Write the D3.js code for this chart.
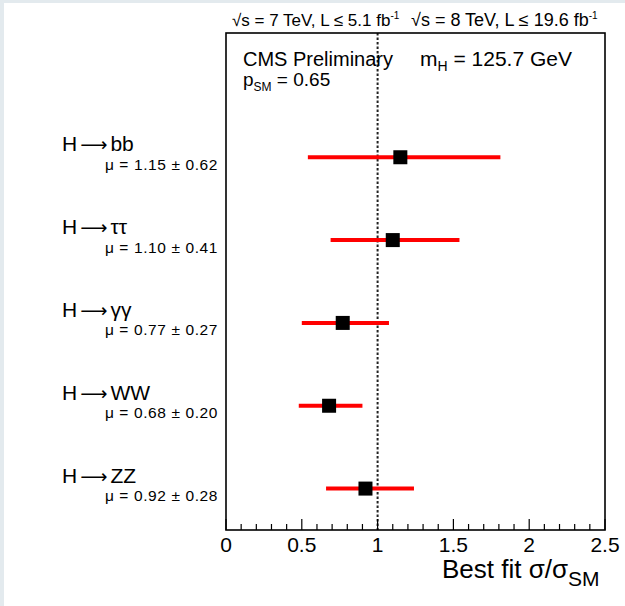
<!DOCTYPE html>
<html><head><meta charset="utf-8">
<script src="https://cdn.jsdelivr.net/npm/d3@7"></script>
<style>body{margin:0;background:#fff}svg{display:block}text{font-family:"Liberation Sans",Arial,sans-serif;fill:#000}</style>
</head><body>
<script>
const channels = ["H \u2192 bb", "H \u2192 \u03c4\u03c4", "H \u2192 \u03b3\u03b3", "H \u2192 WW", "H \u2192 ZZ"];
const mu = [1.15, 1.10, 0.77, 0.68, 0.92];
const muErrLabel = ["0.62", "0.41", "0.27", "0.20", "0.28"];
const lo = [0.54, 0.69, 0.50, 0.48, 0.66];
const hi = [1.81, 1.54, 1.075, 0.90, 1.24];
const xTicks = [0, 0.5, 1, 1.5, 2, 2.5];
const xMinor = d3.range(1, 25).map(i => i / 10);
const smValue = 1;

const W = 625, H = 606;
const L = 226, R = 605, T = 33, B = 530;
const svg = d3.select("body").append("svg").attr("width", W).attr("height", H);

// window chrome borders
svg.append("rect").attr("x", 0).attr("y", 0).attr("width", W).attr("height", 3).attr("fill", "#e3eaee");
svg.append("rect").attr("x", 0).attr("y", 0).attr("width", 4).attr("height", H).attr("fill", "#e3eaee");

const x = d3.scaleLinear().domain([0, 2.5]).range([L, R]);
const y = d3.scaleLinear().domain([0, 6]).range([B, T]);
const n = channels.length;
const yPos = i => y(n - 1 - i + 0.5);

// SM dotted line
svg.append("line").attr("x1", x(smValue)).attr("x2", x(smValue)).attr("y1", T).attr("y2", B)
  .attr("stroke", "#222").attr("stroke-width", 2).attr("stroke-dasharray", "2.5,2");

// error bars
svg.selectAll(".err").data(channels).enter().append("line")
  .attr("x1", (d, i) => x(lo[i])).attr("x2", (d, i) => x(hi[i]))
  .attr("y1", (d, i) => yPos(i)).attr("y2", (d, i) => yPos(i))
  .attr("stroke", "#ff0000").attr("stroke-width", 4);

// markers
const ms = 14;
svg.selectAll(".mk").data(channels).enter().append("rect")
  .attr("x", (d, i) => x(mu[i]) - ms / 2).attr("y", (d, i) => yPos(i) - ms / 2)
  .attr("width", ms).attr("height", ms).attr("fill", "#000");

// frame
svg.append("rect").attr("x", L).attr("y", T).attr("width", R - L).attr("height", B - T)
  .attr("fill", "none").attr("stroke", "#000").attr("stroke-width", 1.6);

// ticks
const tg = svg.append("g");
tg.selectAll(".maj").data(xTicks).enter().append("line")
  .attr("x1", d => x(d)).attr("x2", d => x(d)).attr("y1", B).attr("y2", B - 11)
  .attr("stroke", "#000").attr("stroke-width", 1.2);
tg.selectAll(".min").data(xMinor.filter(v => Math.abs(v * 2 - Math.round(v * 2)) > 1e-6)).enter().append("line")
  .attr("x1", d => x(d)).attr("x2", d => x(d)).attr("y1", B).attr("y2", B - 6)
  .attr("stroke", "#000").attr("stroke-width", 1.2);
tg.selectAll(".tl").data(xTicks).enter().append("text")
  .attr("x", d => x(d)).attr("y", 552).attr("text-anchor", "middle").attr("font-size", 21)
  .text(d => d3.format("")(d));

// axis title
const at = svg.append("text").attr("x", 442).attr("y", 578).attr("font-size", 26);
at.append("tspan").text("Best fit \u03c3/\u03c3");
at.append("tspan").attr("font-size", 21).attr("dy", 8).text("SM");

// top text
svg.append("text").attr("x", 232).attr("y", 26).attr("font-size", 17)
  .text("\u221As = 7 TeV, L \u2264 5.1 fb").append("tspan").attr("font-size", 10).attr("dy", -7).text("-1");
svg.append("text").attr("x", 411).attr("y", 26).attr("font-size", 18)
  .text("\u221As = 8 TeV, L \u2264 19.6 fb").append("tspan").attr("font-size", 10).attr("dy", -7).text("-1");

// CMS Preliminary
svg.append("text").attr("x", 243).attr("y", 66).attr("font-size", 20).text("CMS Preliminary");
const mh = svg.append("text").attr("x", 420).attr("y", 66).attr("font-size", 21);
mh.append("tspan").text("m");
mh.append("tspan").attr("font-size", 14).attr("dy", 5).text("H");
mh.append("tspan").attr("dy", -5).text(" = 125.7 GeV");
const ps = svg.append("text").attr("x", 243).attr("y", 86).attr("font-size", 19);
ps.append("tspan").text("p");
ps.append("tspan").attr("font-size", 12).attr("dy", 5).text("SM");
ps.append("tspan").attr("dy", -5).text(" = 0.65");

// channel labels
const cl = svg.selectAll(".cl").data(channels).enter().append("text")
  .attr("x", 62).attr("y", (d, i) => yPos(i) - 6).attr("font-size", 21);
cl.append("tspan").text(d => d.split(" \u2192 ")[0]);
cl.append("tspan").attr("dx", 3).attr("font-family", "DejaVu Sans").attr("font-size", 19).text("\u27f6");
cl.append("tspan").attr("dx", 3).text(d => d.split(" \u2192 ")[1]);
svg.selectAll(".ml").data(channels).enter().append("text")
  .attr("x", 218).attr("y", (d, i) => yPos(i) + 12.5).attr("text-anchor", "end")
  .attr("font-size", 15.5).attr("letter-spacing", 0.6)
  .text((d, i) => "\u03bc = " + d3.format(".2f")(mu[i]) + " \u00b1 " + muErrLabel[i]);
</script>
</body></html>
